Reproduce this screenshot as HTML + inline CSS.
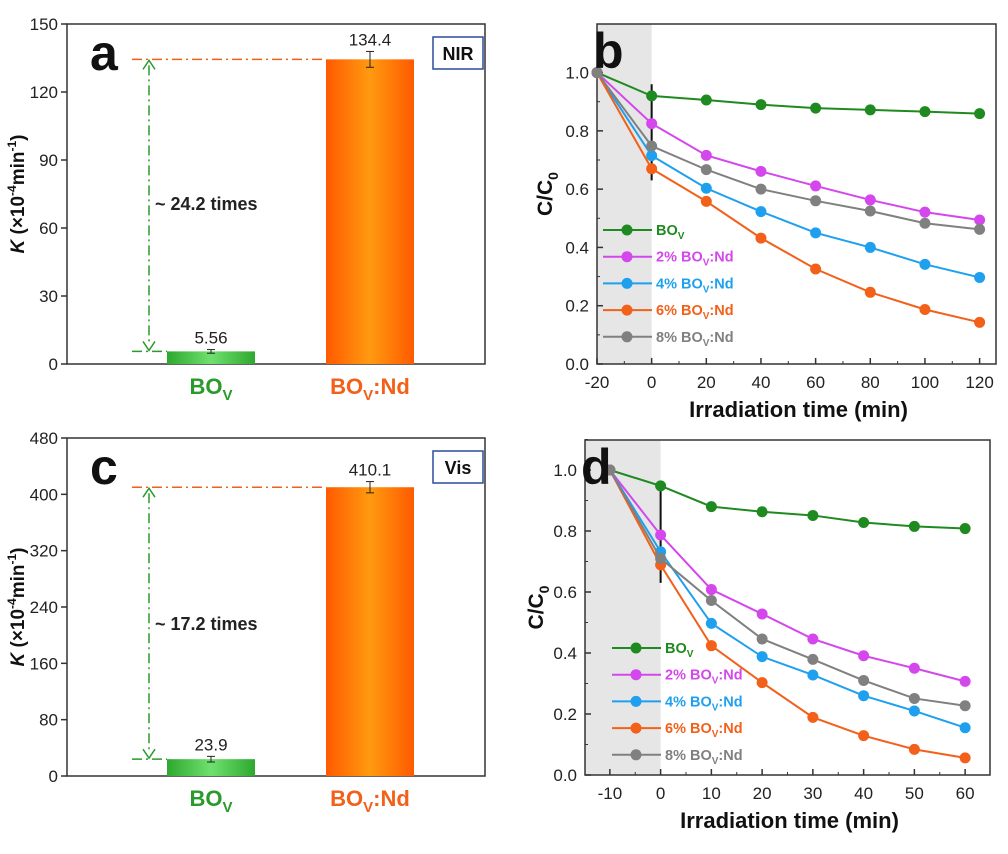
<!DOCTYPE html>
<html><head><meta charset="utf-8"><style>
body{margin:0;background:#fff;width:1008px;height:849px;overflow:hidden;font-family:"Liberation Sans",Arial,sans-serif}
svg text{font-family:"Liberation Sans",Arial,sans-serif}
</style></head><body>
<svg id="s" width="1008" height="849" xmlns="http://www.w3.org/2000/svg"></svg>
<script>
// ---- data ----
const barCats=["BOV","BOV:Nd"];
const barNIR=[5.56,134.4];
const barNIRerr=[0.8,3.5];
const barVis=[23.9,410.1];
const barViserr=[4,8];
const seriesNames=["BOV","2% BOV:Nd","4% BOV:Nd","6% BOV:Nd","8% BOV:Nd"];
const seriesColors=["#1f8a1f","#d447ec","#1ea0ee","#f2601a","#808080"];
const timeB=[-20,0,20,40,60,80,100,120];
const valsB=[
[1.0,0.92,0.906,0.89,0.878,0.872,0.866,0.859],
[1.0,0.825,0.716,0.661,0.611,0.563,0.521,0.494],
[1.0,0.715,0.603,0.523,0.45,0.40,0.342,0.297],
[1.0,0.67,0.558,0.432,0.326,0.246,0.187,0.143],
[1.0,0.748,0.667,0.60,0.56,0.525,0.483,0.462]];
const timeD=[-10,0,10,20,30,40,50,60];
const valsD=[
[1.0,0.948,0.88,0.863,0.851,0.828,0.815,0.808],
[1.0,0.787,0.608,0.528,0.446,0.391,0.35,0.307],
[1.0,0.732,0.497,0.388,0.328,0.26,0.21,0.155],
[1.0,0.689,0.424,0.303,0.189,0.129,0.084,0.056],
[1.0,0.71,0.572,0.446,0.379,0.31,0.251,0.227]];
const ticksA=[0,30,60,90,120,150];
const ticksC=[0,80,160,240,320,400,480];
const ticksY=[0,0.2,0.4,0.6,0.8,1.0];
const ticksXB=[-20,0,20,40,60,80,100,120];
const ticksXD=[-10,0,10,20,30,40,50,60];

const S=document.getElementById('s');
const NS="http://www.w3.org/2000/svg";
function el(t,a,txt){const e=document.createElementNS(NS,t);for(const k in a)e.setAttribute(k,a[k]);if(txt!==undefined)e.innerHTML=txt;S.appendChild(e);return e;}

function barPanel(p){
 const {x0,x1,y0,y1,max,ticks,vals,errs,letter,box,times,tb}=p;
 const Y=v=>y1-(v/max)*(y1-y0);
 let f=el('rect',{x:x0,y:y0,width:x1-x0,height:y1-y0,fill:'none',stroke:'#333','stroke-width':1.5});
 
 ticks.forEach(t=>{const y=Y(t);
  el('line',{x1:x0,x2:x0-6,y1:y,y2:y,stroke:'#333','stroke-width':1.5});
  const l=el('text',{x:x0-9,y:y+6,'text-anchor':'end','font-size':17,fill:'#222'},t);
  });
 const cx=[211,370],bw=88;
 const grads=['gg','og'];
 vals.forEach((v,i)=>{const y=Y(v);
  const b=el('rect',{x:cx[i]-bw/2,y:y,width:bw,height:y1-y,fill:'url(#'+grads[i]+')'});
  
  el('line',{x1:cx[i],x2:cx[i],y1:Y(v+errs[i]),y2:Y(v-errs[i]),stroke:'#222'});
  el('line',{x1:cx[i]-4,x2:cx[i]+4,y1:Y(v+errs[i]),y2:Y(v+errs[i]),stroke:'#222'});
  el('line',{x1:cx[i]-4,x2:cx[i]+4,y1:Y(v-errs[i]),y2:Y(v-errs[i]),stroke:'#222'});
  const t=el('text',{x:cx[i],y:Y(v+errs[i])-6,'text-anchor':'middle','font-size':17,fill:'#222'},v);
  
 });
 const yt=Y(vals[1]),yb=Y(vals[0]);
 el('line',{x1:x0+65,x2:cx[1]-bw/2,y1:yt,y2:yt,stroke:'#f2601a','stroke-width':1.5,'stroke-dasharray':'10 4 2 4'});
 el('line',{x1:x0+65,x2:cx[0]-bw/2,y1:yb,y2:yb,stroke:'#2a9a2a','stroke-width':1.5,'stroke-dasharray':'10 4 2 4'});
 el('line',{x1:149,x2:149,y1:yt+6,y2:yb-6,stroke:'#2a9a2a','stroke-width':1.5,'stroke-dasharray':'10 4 2 4'});
 el('path',{d:`M143,${yt+10} L149,${yt+1} L155,${yt+10}`,fill:'none',stroke:'#2a9a2a','stroke-width':1.5});
 el('path',{d:`M143,${yb-10} L149,${yb-1} L155,${yb-10}`,fill:'none',stroke:'#2a9a2a','stroke-width':1.5});
 const tt=el('text',{x:155,y:tb,'font-size':18,'font-weight':'bold',fill:'#222'},times);
 
 const lt=el('text',{x:90,y:y0+46,'font-size':50,'font-weight':'bold',fill:'#111'},letter);
 
 const br=el('rect',{x:433,y:y0+13,width:50,height:32,fill:'#fff',stroke:'#2b4c9b','stroke-width':1.5});
 
 el('text',{x:458,y:y0+36,'text-anchor':'middle','font-size':18,'font-weight':'bold',fill:'#111'},box);
 const c1=el('text',{x:cx[0],y:y1+30,'text-anchor':'middle','font-size':22,'font-weight':'bold',fill:'#2a9a2a'},'BO<tspan font-size="15" dy="6">V</tspan>');
 
 const c2=el('text',{x:cx[1],y:y1+30,'text-anchor':'middle','font-size':22,'font-weight':'bold',fill:'#f2601a'},'BO<tspan font-size="15" dy="6">V</tspan><tspan dy="-6">:Nd</tspan>');
 
 const ya=el('text',{x:0,y:0,'text-anchor':'middle','font-size':19,'font-weight':'bold',fill:'#111',transform:`translate(24,${(y0+y1)/2}) rotate(-90)`},'<tspan font-style="italic">K</tspan> (×10<tspan font-size="12" dy="-8">-4</tspan><tspan dy="8">min</tspan><tspan font-size="12" dy="-8">-1</tspan><tspan dy="8">)</tspan>');
 
}

function linePanel(p){
 const {x0,x1,y0,y1,xmin,xmax,ymax,times,vals,xt,letter,legY,legX,ytx}=p;
 const X=t=>x0+(t-xmin)/(xmax-xmin)*(x1-x0);
 const Y=v=>y1-(v/ymax)*(y1-y0);
 el('rect',{x:x0,y:y0,width:X(0)-x0,height:y1-y0,fill:'#e6e6e6'});
 const f=el('rect',{x:x0,y:y0,width:x1-x0,height:y1-y0,fill:'none',stroke:'#333','stroke-width':1.5});
 
 ticksY.forEach(t=>{const y=Y(t);
  el('line',{x1:x0,x2:x0+6,y1:y,y2:y,stroke:'#333','stroke-width':1.5});
  el('line',{x1:x0,x2:x0+3,y1:Y(t+0.1),y2:Y(t+0.1),stroke:'#333'});
  const l=el('text',{x:x0-8,y:y+6,'text-anchor':'end','font-size':17,fill:'#222'},t.toFixed(1));
  });
 xt.forEach((t,i)=>{const x=X(t);
  el('line',{x1:x,x2:x,y1:y1,y2:y1-6,stroke:'#333','stroke-width':1.5});
  if(i<xt.length-1){const xm=X((t+xt[i+1])/2);el('line',{x1:xm,x2:xm,y1:y1,y2:y1-3,stroke:'#333'});}
  const l=el('text',{x:x,y:y1+24,'text-anchor':'middle','font-size':17,fill:'#222'},t);
  });
 el('line',{x1:X(0),x2:X(0),y1:Y(0.96),y2:Y(0.63),stroke:'#111','stroke-width':2});
 vals.forEach((s,k)=>{
  const pts=s.map((v,i)=>X(times[i])+','+Y(v)).join(' ');
  const pl=el('polyline',{points:pts,fill:'none',stroke:seriesColors[k],'stroke-width':2});
  
  s.forEach((v,i)=>{const c=el('circle',{cx:X(times[i]),cy:Y(v),r:5.5,fill:seriesColors[k]});
   });
 });
 seriesNames.forEach((n,k)=>{const y=legY+k*26.7;
  el('line',{x1:legX,x2:legX+49,y1:y,y2:y,stroke:seriesColors[k],'stroke-width':2});
  el('circle',{cx:legX+24,cy:y,r:5.5,fill:seriesColors[k]});
  const parts=n.split('BOV');
  const t=el('text',{x:legX+53,y:y+5,'font-size':14.5,'font-weight':'bold',fill:seriesColors[k]},parts[0]+'BO<tspan font-size="10" dy="4">V</tspan><tspan dy="-4">'+parts[1]+'</tspan>');
  
 });
 const lt=el('text',{x:x0-4,y:y0+44,'font-size':50,'font-weight':'bold',fill:'#111'},letter);
 
 const xa=el('text',{x:(x0+x1)/2+2,y:y1+53,'text-anchor':'middle','font-size':22,'font-weight':'bold',fill:'#111'},'Irradiation time (min)');
 
 const ya=el('text',{x:0,y:0,'text-anchor':'middle','font-size':21,'font-weight':'bold',fill:'#111',transform:`translate(${ytx},${(y0+y1)/2}) rotate(-90)`},'C/C<tspan font-size="14" dy="6">0</tspan>');
 
}

S.innerHTML='<defs><linearGradient id="gg"><stop offset="0" stop-color="#2ea82e"/><stop offset=".5" stop-color="#6fe06f"/><stop offset="1" stop-color="#2ea82e"/></linearGradient><linearGradient id="og"><stop offset="0" stop-color="#ff5a00"/><stop offset=".5" stop-color="#ff9a10"/><stop offset="1" stop-color="#ff5a00"/></linearGradient></defs>';
barPanel({x0:67,x1:485,y0:24,y1:364,max:150,ticks:ticksA,vals:barNIR,errs:barNIRerr,letter:'a',box:'NIR',times:'~ 24.2 times',tb:210});
barPanel({x0:67,x1:485,y0:438,y1:776,max:480,ticks:ticksC,vals:barVis,errs:barViserr,letter:'c',box:'Vis',times:'~ 17.2 times',tb:630});
linePanel({x0:597,x1:996,y0:24,y1:364,xmin:-20,xmax:126,ymax:364/312,times:timeB,vals:valsB,xt:ticksXB,letter:'b',legY:230,legX:603,ytx:552});
linePanel({x0:585,x1:990,y0:440,y1:775,xmin:-14.9,xmax:64.9,ymax:335/305,times:timeD,vals:valsD,xt:ticksXD,letter:'d',legY:648,legX:612,ytx:543});
</script>
</body></html>
